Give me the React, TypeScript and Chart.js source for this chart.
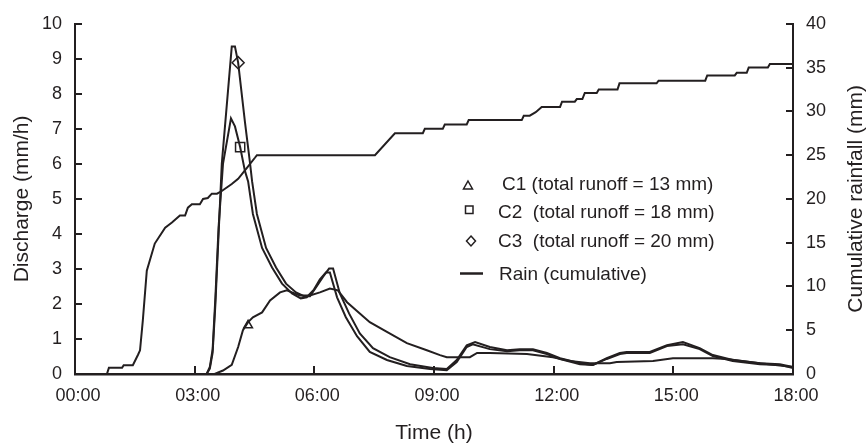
import React, { useEffect, useRef } from 'react';
import { Chart, registerables } from 'chart.js';

Chart.register(...registerables);

// ---------- data ----------
const xTickLabels = ['00:00', '03:00', '06:00', '09:00', '12:00', '15:00', '18:00'];

const c1Time = [0, 3.50, 3.71, 3.93, 4.09, 4.21, 4.34, 4.46, 4.69, 4.89, 5.14, 5.31, 5.64, 5.89, 6.14, 6.39, 6.59, 6.82, 7.14, 7.39, 7.82, 8.32, 8.82, 9.15, 9.32, 9.90, 10.08, 10.40, 11.33, 11.98, 12.41, 12.91, 13.41, 13.58, 14.49, 14.99, 15.99, 16.34, 17.17, 18];
const c1Discharge = [0, 0, 0.1, 0.26, 0.77, 1.25, 1.48, 1.62, 1.76, 2.1, 2.33, 2.39, 2.24, 2.24, 2.33, 2.44, 2.39, 2.05, 1.73, 1.48, 1.2, 0.88, 0.68, 0.54, 0.48, 0.48, 0.6, 0.6, 0.57, 0.48, 0.37, 0.31, 0.31, 0.34, 0.37, 0.45, 0.45, 0.43, 0.31, 0.2];

const c2Time = [0, 3.30, 3.38, 3.45, 3.52, 3.60, 3.71, 3.91, 4.01, 4.14, 4.26, 4.34, 4.46, 4.69, 4.94, 5.19, 5.44, 5.66, 5.81, 5.99, 6.14, 6.29, 6.39, 6.57, 6.79, 7.07, 7.39, 7.82, 8.32, 8.90, 9.32, 9.57, 9.82, 9.97, 10.40, 10.83, 11.15, 11.48, 11.83, 12.16, 12.66, 12.98, 13.33, 13.66, 13.83, 14.41, 14.84, 15.24, 15.66, 15.99, 16.49, 17.17, 17.67, 18];
const c2Discharge = [0, 0, 0.2, 0.7, 2.2, 4.2, 6.0, 7.3, 7.07, 6.48, 5.8, 5.5, 4.57, 3.6, 3.04, 2.58, 2.3, 2.16, 2.19, 2.41, 2.7, 2.9, 2.9, 2.19, 1.62, 1.08, 0.63, 0.4, 0.23, 0.14, 0.11, 0.34, 0.77, 0.85, 0.71, 0.65, 0.68, 0.68, 0.57, 0.43, 0.28, 0.26, 0.43, 0.57, 0.6, 0.6, 0.8, 0.85, 0.71, 0.51, 0.37, 0.28, 0.26, 0.17];

const c3Time = [0, 3.30, 3.38, 3.45, 3.52, 3.60, 3.68, 3.93, 4.01, 4.09, 4.26, 4.39, 4.44, 4.56, 4.79, 5.04, 5.29, 5.54, 5.74, 5.89, 6.04, 6.22, 6.37, 6.47, 6.64, 6.87, 7.14, 7.47, 7.89, 8.40, 8.97, 9.32, 9.57, 9.82, 10.03, 10.40, 10.83, 11.15, 11.48, 11.83, 12.16, 12.66, 12.98, 13.33, 13.66, 13.83, 14.41, 14.84, 15.24, 15.66, 15.99, 16.49, 17.17, 17.67, 18];
const c3Discharge = [0, 0, 0.15, 0.6, 2.0, 4.0, 6.0, 9.35, 9.35, 8.89, 7.2, 6.0, 5.5, 4.57, 3.6, 3.04, 2.58, 2.33, 2.22, 2.22, 2.47, 2.78, 3.01, 3.01, 2.3, 1.73, 1.16, 0.74, 0.48, 0.28, 0.17, 0.14, 0.4, 0.82, 0.91, 0.77, 0.68, 0.71, 0.71, 0.6, 0.45, 0.31, 0.26, 0.45, 0.6, 0.63, 0.63, 0.82, 0.91, 0.74, 0.54, 0.4, 0.31, 0.28, 0.2];

const rainTime = [0, 0.80, 0.85, 1.18, 1.22, 1.45, 1.58, 1.63, 1.70, 1.80, 2.00, 2.26, 2.43, 2.63, 2.76, 2.83, 2.93, 3.13, 3.21, 3.33, 3.43, 3.56, 3.68, 3.93, 4.09, 4.30, 4.51, 4.56, 7.52, 8.02, 8.72, 8.77, 9.22, 9.27, 9.82, 9.87, 11.20, 11.25, 11.40, 11.55, 11.70, 12.16, 12.21, 12.53, 12.58, 12.72, 12.78, 13.08, 13.13, 13.60, 13.65, 14.58, 14.63, 15.80, 15.85, 16.54, 16.59, 16.84, 16.89, 17.37, 17.42, 18];
const rainCumulative = [0, 0, 0.7, 0.7, 1.0, 1.0, 2.2, 2.7, 6.1, 11.8, 14.9, 16.7, 17.3, 18.1, 18.1, 19.0, 19.4, 19.4, 20.0, 20.1, 20.6, 20.6, 20.9, 21.7, 22.3, 23.5, 24.7, 25.0, 25.0, 27.5, 27.5, 28.0, 28.0, 28.5, 28.5, 29.0, 29.0, 29.5, 29.5, 29.9, 30.5, 30.5, 31.1, 31.1, 31.4, 31.4, 32.1, 32.1, 32.5, 32.5, 33.2, 33.2, 33.5, 33.5, 34.1, 34.1, 34.4, 34.4, 35.0, 35.0, 35.4, 35.4];

// one marker per catchment curve (C1, C2, C3)
const markerTime = [4.34, 4.14, 4.09];
const markerDischarge = [1.39, 6.48, 8.89];

const legendLabels = [
  'C1 (total runoff = 13 mm)',
  'C2  (total runoff = 18 mm)',
  'C3  (total runoff = 20 mm)',
  'Rain (cumulative)',
];

// ---------- styling ----------
const INK = '#231f20';
const FONT = '"Liberation Sans", Arial, Helvetica, sans-serif';

const zip = (xs: number[], ys: number[]) => xs.map((x, i) => ({ x, y: ys[i] }));

const overlayPlugin = {
  id: 'overlay',
  afterDraw(chart: any) {
    const ctx: CanvasRenderingContext2D = chart.ctx;
    const { left, right, top, bottom } = chart.chartArea;
    ctx.save();
    ctx.strokeStyle = INK;
    ctx.fillStyle = INK;
    ctx.lineWidth = 2;

    // inward tick marks
    const xs = chart.scales.x;
    xs.ticks.forEach((t: any) => {
      const px = Math.round(xs.getPixelForValue(t.value));
      ctx.beginPath();
      ctx.moveTo(px, bottom);
      ctx.lineTo(px, bottom - 8);
      ctx.stroke();
    });
    const ys = chart.scales.y;
    ys.ticks.forEach((t: any) => {
      const py = Math.round(ys.getPixelForValue(t.value));
      ctx.beginPath();
      ctx.moveTo(left, py);
      ctx.lineTo(left + 7, py);
      ctx.stroke();
    });
    const y1 = chart.scales.y1;
    y1.ticks.forEach((t: any) => {
      const py = Math.round(y1.getPixelForValue(t.value));
      ctx.beginPath();
      ctx.moveTo(right, py);
      ctx.lineTo(right - 7, py);
      ctx.stroke();
    });

    // right axis title, reading bottom-to-top
    ctx.save();
    ctx.translate(856, (top + bottom) / 2);
    ctx.rotate(-Math.PI / 2);
    ctx.font = `21px ${FONT}`;
    ctx.textAlign = 'center';
    ctx.textBaseline = 'middle';
    ctx.fillText('Cumulative rainfall (mm)', 0, 0);
    ctx.restore();

    // legend
    ctx.lineWidth = 1.5;
    ctx.font = `19px ${FONT}`;
    ctx.textAlign = 'left';
    ctx.textBaseline = 'middle';
    // triangle
    ctx.beginPath();
    ctx.moveTo(468, 181);
    ctx.lineTo(472.5, 189);
    ctx.lineTo(463.5, 189);
    ctx.closePath();
    ctx.stroke();
    ctx.fillText(legendLabels[0], 502, 185);
    // square
    ctx.strokeRect(465.5, 206, 7.5, 7.5);
    ctx.fillText(legendLabels[1], 498, 213);
    // diamond
    ctx.beginPath();
    ctx.moveTo(471, 236);
    ctx.lineTo(475.5, 241);
    ctx.lineTo(471, 246);
    ctx.lineTo(466.5, 241);
    ctx.closePath();
    ctx.stroke();
    ctx.fillText(legendLabels[2], 498, 242);
    // line
    ctx.lineWidth = 2.5;
    ctx.beginPath();
    ctx.moveTo(460, 273.5);
    ctx.lineTo(483, 273.5);
    ctx.stroke();
    ctx.fillText(legendLabels[3], 499, 275);

    ctx.restore();
  },
};

export default function App() {
  const ref = useRef<HTMLCanvasElement | null>(null);

  useEffect(() => {
    if (!ref.current) return;
    const lineDs = (label: string, data: any[], axis = 'y') => ({
      label,
      data,
      yAxisID: axis,
      borderColor: INK,
      borderWidth: 2,
      pointRadius: 0,
      tension: 0,
      fill: false,
    });
    const markerDs = (label: string, i: number, style: string, r: number) => ({
      label,
      data: [{ x: markerTime[i], y: markerDischarge[i] }],
      yAxisID: 'y',
      showLine: false,
      pointStyle: style,
      pointRadius: r,
      pointBorderWidth: 1.5,
      pointBorderColor: INK,
      pointBackgroundColor: 'rgba(255,255,255,0)',
      borderColor: INK,
    });

    const chart = new Chart(ref.current, {
      type: 'line',
      data: {
        datasets: [
          lineDs('Rain (cumulative)', zip(rainTime, rainCumulative), 'y1'),
          lineDs('C1', zip(c1Time, c1Discharge)),
          lineDs('C2', zip(c2Time, c2Discharge)),
          lineDs('C3', zip(c3Time, c3Discharge)),
          markerDs('C1 marker', 0, 'triangle', 5),
          markerDs('C2 marker', 1, 'rect', 6.5),
          markerDs('C3 marker', 2, 'rectRot', 6),
        ] as any,
      },
      options: {
        responsive: false,
        animation: false,
        events: [],
        layout: { padding: { top: 22, left: 0, right: 0, bottom: 0 } },
        plugins: {
          legend: { display: false },
          tooltip: { enabled: false },
        },
        scales: {
          x: {
            type: 'linear',
            min: 0,
            max: 18,
            afterFit: (s: any) => { s.height = 70; },
            grid: { display: false, drawTicks: false },
            border: { display: true, color: INK, width: 2.5 },
            ticks: {
              stepSize: 3,
              padding: 11,
              labelOffset: 3,
              color: INK,
              font: { family: FONT, size: 18 },
              maxRotation: 0,
              callback: (v: any) => xTickLabels[Math.round(Number(v) / 3)] ?? '',
            },
            title: {
              display: true,
              text: 'Time (h)',
              color: INK,
              font: { family: FONT, size: 21 },
              padding: { top: 0, bottom: -2 },
            },
          },
          y: {
            type: 'linear',
            position: 'left',
            min: 0,
            max: 10,
            afterFit: (s: any) => { s.width = 75; },
            grid: { display: false, drawTicks: false },
            border: { display: true, color: INK, width: 2 },
            ticks: {
              stepSize: 1,
              padding: 13,
              color: INK,
              font: { family: FONT, size: 18 },
            },
            title: {
              display: true,
              text: 'Discharge (mm/h)',
              color: INK,
              font: { family: FONT, size: 21 },
              padding: { top: 10, bottom: 0 },
            },
          },
          y1: {
            type: 'linear',
            position: 'right',
            min: 0,
            max: 40,
            afterFit: (s: any) => { s.width = 73; },
            grid: { display: false, drawTicks: false },
            border: { display: true, color: INK, width: 2 },
            ticks: {
              stepSize: 5,
              padding: 13,
              color: INK,
              font: { family: FONT, size: 18 },
            },
          },
        },
      } as any,
      plugins: [overlayPlugin],
    });
    return () => chart.destroy();
  }, []);

  return (
    <div style={{ position: 'absolute', left: 0, top: 0, width: 866, height: 444, background: '#fff' }}>
      <canvas ref={ref} width={866} height={444} style={{ display: 'block' }} />
    </div>
  );
}
